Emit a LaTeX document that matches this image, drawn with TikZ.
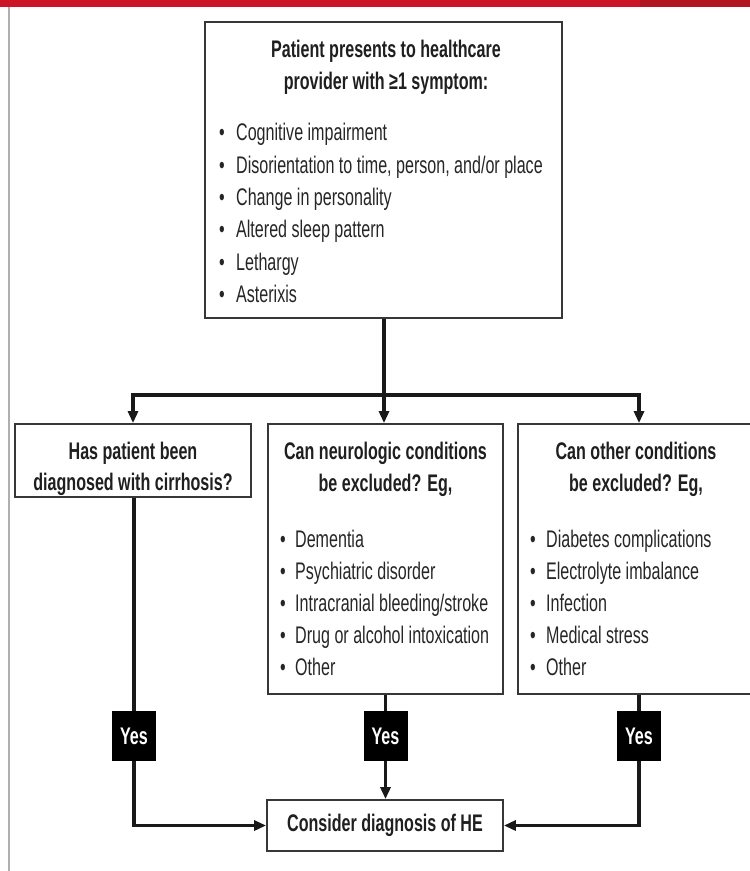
\documentclass[tikz,border=0pt]{standalone}
\usepackage{fontspec}
\setmainfont[FakeStretch=0.67]{Liberation Sans}
\usetikzlibrary{arrows.meta}
\definecolor{barred}{RGB}{204,22,38}
\definecolor{barreddark}{RGB}{178,20,34}
\definecolor{boxline}{RGB}{55,55,55}
\definecolor{sideline}{RGB}{175,175,175}
\newcommand\fsz{\fontsize{24}{28}\selectfont}
\begin{document}
\begin{tikzpicture}[x=1pt,y=-1pt,
  box/.style={draw=boxline, line width=1.8pt, rectangle, inner sep=0pt},
  yesbox/.style={fill=black, text=white, font=\fsz\bfseries, minimum width=44pt, minimum height=50pt, inner sep=0pt},
  ttl/.style={anchor=base, inner sep=0pt, font=\fsz\bfseries, text=black!88},
  itm/.style={anchor=base west, inner sep=0pt, font=\fsz, text=black!85},
  conn/.style={line width=3.5pt, black!90},
  arr/.style={conn, -{Triangle[length=12pt,width=10pt]}}
]
\useasboundingbox (0,0) rectangle (750,871);
\fill[white] (0,0) rectangle (750,871);
% header bar and side rule
\fill[barred] (0,0) rectangle (750,7);
\fill[barreddark] (640,0) rectangle (750,7);
\draw[sideline, line width=1.5pt] (9,7) -- (9,871);

% boxes
\node[box, minimum width=357pt, minimum height=296pt] (top) at (383.5,170) {};
\node[box, minimum width=236pt, minimum height=73pt] (cirr) at (133,460.5) {};
\node[box, minimum width=235pt, minimum height=270pt] (neuro) at (385.5,559) {};
\begin{scope}
\clip (0,0) rectangle (750,871);
\node[box, minimum width=236pt, minimum height=270pt] (other) at (636,559) {};
\end{scope}
\node[box, minimum width=236pt, minimum height=51pt, font=\fsz\bfseries, text=black!88] (he) at (385,825.5) {Consider diagnosis of HE};

% top box text
\node[ttl] (t1) at (386,57) {Patient presents to healthcare};
\node[ttl] (t2) at (386,89) {provider with ≥1 symptom:};
\node[itm] (s1) at (219,140) {\makebox[17pt][l]{•}Cognitive impairment};
\node[itm] (s2) at (219,173) {\makebox[17pt][l]{•}Disorientation to time, person, and/or place};
\node[itm] (s3) at (219,205) {\makebox[17pt][l]{•}Change in personality};
\node[itm] (s4) at (219,237) {\makebox[17pt][l]{•}Altered sleep pattern};
\node[itm] (s5) at (219,270) {\makebox[17pt][l]{•}Lethargy};
\node[itm] (s6) at (219,302) {\makebox[17pt][l]{•}Asterixis};

% left box text
\node[ttl] (c1) at (133,459) {Has patient been};
\node[ttl] (c2) at (133,490) {diagnosed with cirrhosis?};

% middle box text
\node[ttl] (n1) at (385.5,459) {Can neurologic conditions};
\node[ttl] (n2) at (385.5,491) {be excluded? Eg,};
\node[itm] (m1) at (280,547) {\makebox[15pt][l]{•}Dementia};
\node[itm] (m2) at (280,579) {\makebox[15pt][l]{•}Psychiatric disorder};
\node[itm] (m3) at (280,611) {\makebox[15pt][l]{•}Intracranial bleeding/stroke};
\node[itm] (m4) at (280,643) {\makebox[15pt][l]{•}Drug or alcohol intoxication};
\node[itm] (m5) at (280,675) {\makebox[15pt][l]{•}Other};

% right box text
\node[ttl] (o1) at (636,459) {Can other conditions};
\node[ttl] (o2) at (636,491) {be excluded? Eg,};
\node[itm] (r1) at (530,547) {\makebox[16pt][l]{•}Diabetes complications};
\node[itm] (r2) at (530,579) {\makebox[16pt][l]{•}Electrolyte imbalance};
\node[itm] (r3) at (530,611) {\makebox[16pt][l]{•}Infection};
\node[itm] (r4) at (530,643) {\makebox[16pt][l]{•}Medical stress};
\node[itm] (r5) at (530,675) {\makebox[16pt][l]{•}Other};

% yes boxes
\node[yesbox] (yes1) at (134,736) {Yes};
\node[yesbox] (yes2) at (385.5,736) {Yes};
\node[yesbox] (yes3) at (639,736) {Yes};

% connectors from top
\coordinate (jc) at (384,395);
\coordinate (jl) at (133,395);
\coordinate (jr) at (639,395);
\draw[conn] (top.south -| jc) -- (jc);
\draw[conn, line cap=butt] ([xshift=-1.75pt]jl) -- ([xshift=1.75pt]jr);
\draw[arr] (jl) -- (jl |- cirr.north);
\draw[arr] (jc) -- (jc |- neuro.north);
\draw[arr] (jr) -- (jr |- other.north);

% connectors to bottom
\draw[conn] (cirr.south -| yes1) -- (yes1.north);
\draw[arr] (yes1.south) |- (he.west);
\draw[conn] (neuro.south -| yes2) -- (yes2.north);
\draw[arr] (yes2.south) -- (he.north -| yes2);
\draw[conn] (other.south -| yes3) -- (yes3.north);
\draw[arr] (yes3.south) |- (he.east);
\end{tikzpicture}
\end{document}
